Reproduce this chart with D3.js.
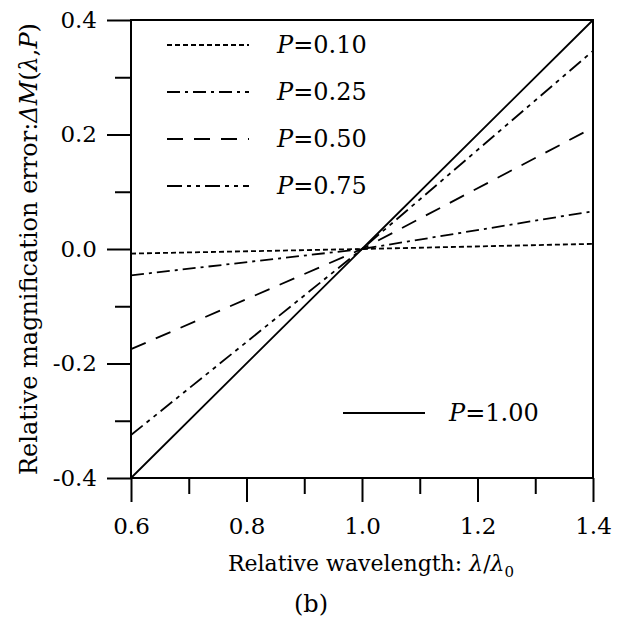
<!DOCTYPE html>
<html>
<head>
<meta charset="utf-8">
<script src="https://cdn.jsdelivr.net/npm/d3@7"></script>
<style>
  body { margin: 0; background: #fff; }
  svg { display: block; font-family: "DejaVu Serif", serif; }
</style>
</head>
<body>
<svg id="chart" width="619" height="628"></svg>
<script>
// values
const lambda = [0.6, 1.0, 1.4];
const pLabels = ["0.10", "0.25", "0.50", "0.75", "1.00"];
const p010 = [-0.008, 0, 0.009];
const p025 = [-0.046, 0, 0.066];
const p050 = [-0.175, 0, 0.212];
const p075 = [-0.325, 0, 0.346];
const p100 = [-0.4, 0, 0.4];
const xTicks = [0.6, 0.8, 1.0, 1.2, 1.4];
const yTicks = [-0.4, -0.2, 0.0, 0.2, 0.4];

const series = [p010, p025, p050, p075, p100];
const dashes = ["5,3", "13,5,3,5", "16,11", "15,5,4,5,4,5", null];

const margin = { top: 20, right: 26, bottom: 150, left: 131 };
const width = 619 - margin.left - margin.right;
const height = 628 - margin.top - margin.bottom;

const svg = d3.select("#chart");
const g = svg.append("g")
  .attr("transform", `translate(${margin.left},${margin.top})`);

const x = d3.scaleLinear().domain([0.6, 1.4]).range([0, width]);
const y = d3.scaleLinear().domain([-0.4, 0.4]).range([height, 0]);

// minor ticks
g.append("g")
  .attr("transform", `translate(0,${height})`)
  .call(d3.axisBottom(x).tickValues(d3.range(0.7, 1.4, 0.2)).tickSize(16).tickFormat(""))
  .call(a => a.select(".domain").remove());
g.append("g")
  .call(d3.axisLeft(y).tickValues(d3.range(-0.3, 0.4, 0.2)).tickSize(16).tickFormat(""))
  .call(a => a.select(".domain").remove());

// major ticks
const xAxis = g.append("g")
  .attr("transform", `translate(0,${height})`)
  .call(d3.axisBottom(x).tickValues(xTicks).tickSize(24).tickPadding(16).tickFormat(d3.format(".1f")));
xAxis.select(".domain").remove();
const yAxis = g.append("g")
  .call(d3.axisLeft(y).tickValues(yTicks).tickSize(24).tickPadding(10).tickFormat(d => d3.format(".1f")(d).replace("−", "-")));
yAxis.select(".domain").remove();

svg.selectAll(".tick line").attr("stroke", "#000").attr("stroke-width", 2);
svg.selectAll(".tick text").attr("fill", "#000").style("font-size", "23px")
  .style("font-family", "'DejaVu Serif', serif");

// frame
g.append("rect")
  .attr("width", width).attr("height", height)
  .attr("fill", "none").attr("stroke", "#000").attr("stroke-width", 2);

const line = d3.line()
  .x((d, i) => x(lambda[i]))
  .y(d => y(d));

g.selectAll(".series")
  .data(series)
  .enter().append("path")
  .attr("class", "series")
  .attr("d", line)
  .attr("fill", "none")
  .attr("stroke", "#000")
  .attr("stroke-width", 1.8)
  .attr("stroke-dasharray", (d, i) => dashes[i]);

// legend
const legendPos = [[36, 25], [36, 72], [36, 119], [36, 166], [212, 393]];
const legend = g.selectAll(".legend")
  .data(pLabels)
  .enter().append("g")
  .attr("class", "legend")
  .attr("transform", (d, i) => `translate(${legendPos[i][0]},${legendPos[i][1]})`);
legend.append("line")
  .attr("x1", 0).attr("x2", 82)
  .attr("stroke", "#000").attr("stroke-width", 1.8)
  .attr("stroke-dasharray", (d, i) => dashes[i]);
legend.append("text")
  .attr("x", (d, i) => i === 4 ? 106 : 110)
  .attr("dy", "0.35em")
  .style("font-size", "24px")
  .html(d => `<tspan font-style="italic">P</tspan>=${d}`);

// axis titles
svg.append("text")
  .attr("x", 228).attr("y", 571)
  .style("font-size", "22px")
  .html("Relative wavelength: <tspan font-style='italic'>λ</tspan>/<tspan font-style='italic'>λ</tspan><tspan dy='6' font-size='15'>0</tspan>");

svg.append("text")
  .attr("x", 311).attr("y", 612)
  .attr("text-anchor", "middle")
  .style("font-size", "24px")
  .text("(b)");

svg.append("text")
  .attr("transform", "translate(37,249) rotate(-90)")
  .attr("text-anchor", "middle")
  .style("font-size", "24px")
  .html("Relative magnification error:<tspan font-style='italic'>ΔM</tspan>(<tspan font-style='italic'>λ</tspan>,<tspan font-style='italic'>P</tspan>)");
</script>
</body>
</html>
